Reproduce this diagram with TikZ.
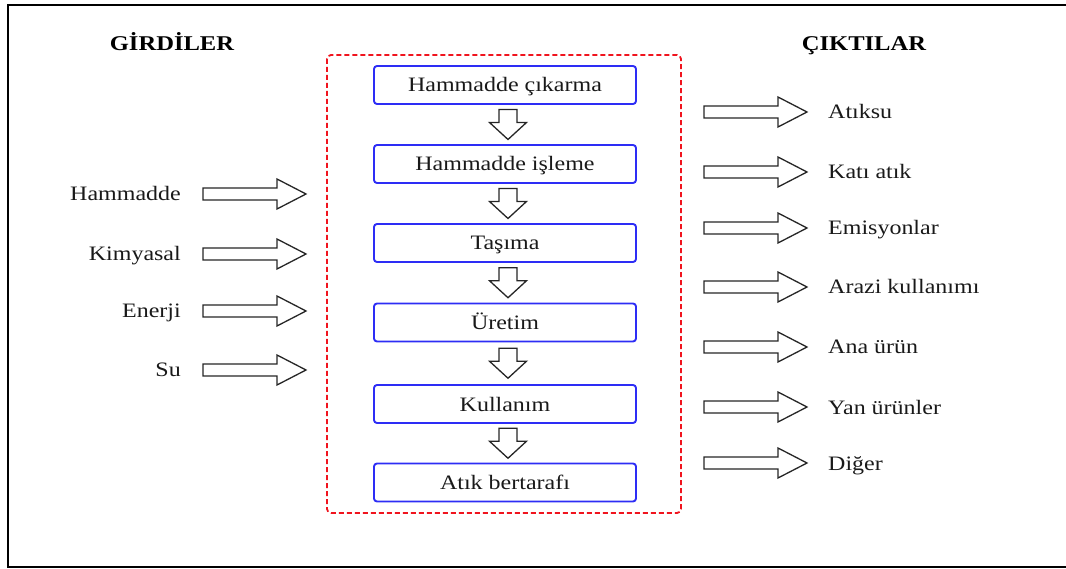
\documentclass[tikz,border=0pt]{standalone}
\usepackage{fontspec}
\setmainfont{Liberation Serif}[FakeStretch=1.17]
\usetikzlibrary{calc}
\definecolor{boxblue}{RGB}{45,45,245}
\definecolor{framered}{RGB}{240,20,30}
\begin{document}
\begin{tikzpicture}[x=1pt,y=-1pt,
  txt/.style={font=\fontsize{20.5}{24}\selectfont, text=black!90, inner sep=0pt, text height=14pt, text depth=0pt},
  ttl/.style={font=\fontsize{21}{24}\selectfont\bfseries, text=black, inner sep=0pt, text height=14.5pt, text depth=0pt},
  stepbox/.style={draw=boxblue, line width=1.9pt, rounded corners=3pt, minimum width=262pt, minimum height=38pt, inner sep=0pt, font=\fontsize{20.5}{24}\selectfont, text=black!90, text height=14pt, text depth=0pt},
  arrowline/.style={draw=black!85, line width=1.3pt, fill=white, line join=miter},
  rarrow/.pic={\path[arrowline] (0,-6) -- (74,-6) -- (74,-15) -- (103,0) -- (74,15) -- (74,6) -- (0,6) -- cycle;},
  darrow/.pic={\path[arrowline] (-9,-15) -- (9,-15) -- (9,-2) -- (18.5,-2) -- (0,15) -- (-18.5,-2) -- (-9,-2) -- cycle;}
]
\useasboundingbox (0,0) rectangle (1066,569);
% outer frame (right side runs off the picture)
\draw[black, line width=2.2pt] (8,5) rectangle (1075,567);

% titles
\node[ttl] (tin) at (172,43) {GİRDİLER};
\node[ttl] (tout) at (864,43) {ÇIKTILAR};

% dashed process frame
\draw[framered, line width=1.8pt, dash pattern=on 5pt off 3pt, rounded corners=4pt] (327,55) rectangle (681,513);

% process steps
\node[stepbox] (b1) at (505,85) {Hammadde çıkarma};
\node[stepbox] (b2) at (505,164) {Hammadde işleme};
\node[stepbox] (b3) at (505,243) {Taşıma};
\node[stepbox] (b4) at (505,322.5) {Üretim};
\node[stepbox] (b5) at (505,404) {Kullanım};
\node[stepbox] (b6) at (505,482.5) {Atık bertarafı};

\foreach \a/\b in {b1/b2,b2/b3,b3/b4,b4/b5,b5/b6}{
  \path ($(\a.south)!0.5!(\b.north)+(3,0)$) pic {darrow};
}

% inputs
\foreach \y/\t/\n in {194/Hammadde/i1, 254/Kimyasal/i2, 311/Enerji/i3, 370/Su/i4}{
  \node[txt, anchor=east] (\n) at (181,\y) {\t};
  \path (203,\y) pic {rarrow};
}

% outputs
\foreach \y/\t/\n in {112/Atıksu/o1, 172/Katı atık/o2, 228/Emisyonlar/o3, 287/Arazi kullanımı/o4, 347/Ana ürün/o5, 407/Yan ürünler/o6, 463/Diğer/o7}{
  \path (704,\y) pic {rarrow};
  \node[txt, anchor=west] (\n) at (828,\y) {\t};
}
\end{tikzpicture}
\end{document}
